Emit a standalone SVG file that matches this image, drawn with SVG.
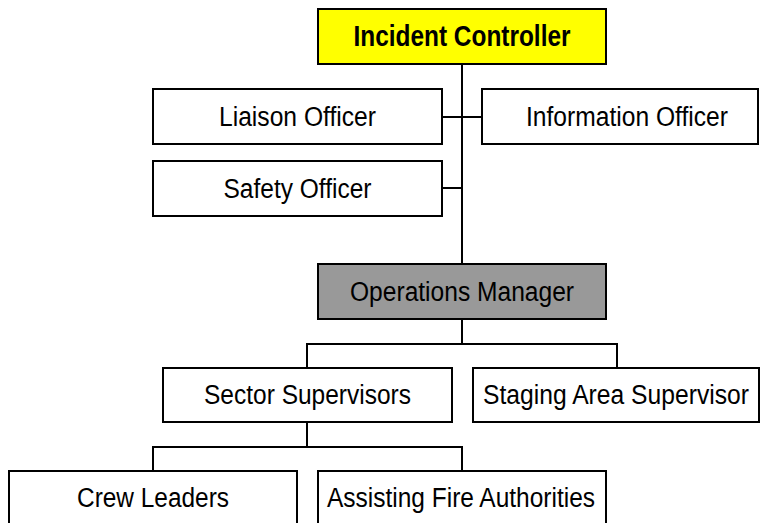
<svg xmlns="http://www.w3.org/2000/svg" width="760" height="523" viewBox="0 0 760 523">
<style>
rect.box{fill:#ffffff;stroke:#000000;stroke-width:2}
rect.top{fill:#ffff00}
rect.ops{fill:#999999}
text{font-family:"Liberation Sans",Arial,sans-serif;font-size:27px;fill:#000000;text-anchor:middle}
text.bold{font-weight:bold;font-size:29px}
#connectors path{fill:none;stroke:#000000;stroke-width:2}
</style>
<rect width="760" height="523" fill="#ffffff"/>
<g id="connectors">
<path d="M462 64V264"/>
<path d="M442 117H482"/>
<path d="M442 188H462"/>
<path d="M462 319V344M307 368V344H617V368"/>
<path d="M307 422V447M153 471V447H462V471"/>
</g>
<g id="incident-controller">
<rect class="box top" x="318" y="9" width="288" height="55"/>
<text class="bold" x="462" y="46" textLength="217" lengthAdjust="spacingAndGlyphs">Incident Controller</text>
</g>
<g id="liaison-officer">
<rect class="box" x="153" y="89" width="289" height="55"/>
<text x="297.5" y="126" textLength="157" lengthAdjust="spacingAndGlyphs">Liaison Officer</text>
</g>
<g id="information-officer">
<rect class="box" x="482" y="89" width="276" height="55"/>
<text x="627" y="126" textLength="202" lengthAdjust="spacingAndGlyphs">Information Officer</text>
</g>
<g id="safety-officer">
<rect class="box" x="153" y="161" width="289" height="55"/>
<text x="297.5" y="198" textLength="148" lengthAdjust="spacingAndGlyphs">Safety Officer</text>
</g>
<g id="operations-manager">
<rect class="box ops" x="318" y="264" width="288" height="55"/>
<text x="462" y="301" textLength="224" lengthAdjust="spacingAndGlyphs">Operations Manager</text>
</g>
<g id="sector-supervisors">
<rect class="box" x="163" y="368" width="289" height="54"/>
<text x="307.5" y="404" textLength="207" lengthAdjust="spacingAndGlyphs">Sector Supervisors</text>
</g>
<g id="staging-area-supervisor">
<rect class="box" x="473" y="368" width="286" height="54"/>
<text x="616" y="404" textLength="266" lengthAdjust="spacingAndGlyphs">Staging Area Supervisor</text>
</g>
<g id="crew-leaders">
<rect class="box" x="9" y="471" width="288" height="60"/>
<text x="153" y="507" textLength="152" lengthAdjust="spacingAndGlyphs">Crew Leaders</text>
</g>
<g id="assisting-fire-authorities">
<rect class="box" x="318" y="471" width="288" height="60"/>
<text x="461" y="507" textLength="268" lengthAdjust="spacingAndGlyphs">Assisting Fire Authorities</text>
</g>
</svg>
